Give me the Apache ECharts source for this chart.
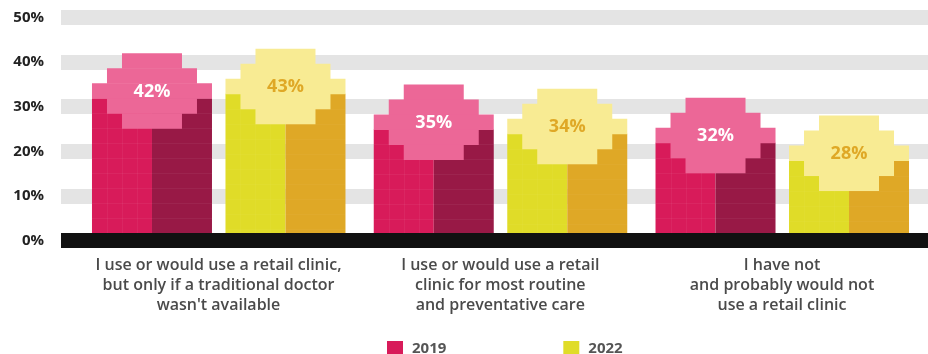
<!DOCTYPE html>
<html>
<head>
<meta charset="utf-8">
<script src="https://cdn.jsdelivr.net/npm/echarts@6/dist/echarts.min.js"></script>
<style>
  html, body { margin: 0; padding: 0; background: #ffffff; }
  #chart { width: 928px; height: 354px; }
</style>
</head>
<body>
<div id="chart"></div>
<script>
// Survey answers about retail clinics, 2019 vs 2022
const categories = [
  "I use or would use a retail clinic,\nbut only if a traditional doctor\nwasn't available",
  "I use or would use a retail\nclinic for most routine\nand preventative care",
  "I have not\nand probably would not\nuse a retail clinic"
];
const values2019 = [42, 35, 32];
const values2022 = [43, 34, 28];
const seriesNames = ["2019", "2022"];
const yTicks = [0, 10, 20, 30, 40, 50];

const FONT = "'Open Sans', Lato, sans-serif";
const CELL = 15;       // pixel-art cell size
const BAR_W = 120;     // 8 cells wide

const palettes = {
  "2019": { face: "#d81b5a", side: "#981946", badge: "#ec6797", text: "#ffffff", grid: "rgba(255,255,255,0.05)" },
  "2022": { face: "#e0dc28", side: "#dfa826", badge: "#f8eb93", text: "#dfa826", grid: "rgba(255,255,255,0.03)" }
};

// Stepped "pixel" column: body split into a lit face and a shaded face,
// topped by a stepped octagon badge whose top edge sits at the value.
function makeRenderer(name, offset) {
  const pal = palettes[name];
  return function (params, api) {
    const cat = api.value(0);
    const v = api.value(1);
    const topPt = api.coord([cat, v]);
    const basePt = api.coord([cat, 0]);
    const cx = topPt[0] + offset;
    const T = topPt[1];
    const B = basePt[1];
    const L = cx - BAR_W / 2;
    const R = cx + BAR_W / 2;
    const bodyTop = T + 3 * CELL;
    const kids = [];

    kids.push({ type: 'rect', shape: { x: L, y: bodyTop, width: cx - L, height: B - bodyTop }, style: { fill: pal.face } });
    kids.push({ type: 'rect', shape: { x: cx, y: bodyTop, width: R - cx, height: B - bodyTop }, style: { fill: pal.side } });

    // faint cell seams on the lit face
    for (let k = 1; k * CELL < cx - L; k++) {
      const x = Math.round(L + k * CELL) + 0.5;
      kids.push({ type: 'line', shape: { x1: x, y1: bodyTop, x2: x, y2: B }, style: { stroke: pal.grid, lineWidth: 1 } });
    }
    for (let y = bodyTop + CELL; y < B; y += CELL) {
      const yy = Math.round(y) + 0.5;
      kids.push({ type: 'line', shape: { x1: L, y1: yy, x2: R, y2: yy }, style: { stroke: pal.grid, lineWidth: 1 } });
    }

    // badge rows (half-widths in cells)
    const rows = [2, 3, 4, 3, 2];
    rows.forEach(function (hw, i) {
      kids.push({
        type: 'rect',
        shape: { x: cx - hw * CELL, y: T + i * CELL, width: hw * 2 * CELL, height: CELL + 0.5 },
        style: { fill: pal.badge }
      });
    });

    kids.push({
      type: 'text',
      style: {
        text: v + '%', x: cx, y: T + 2.5 * CELL + 1,
        align: 'center', verticalAlign: 'middle',
        fill: pal.text, fontSize: 18, fontWeight: 'bold', fontFamily: FONT
      }
    });
    return { type: 'group', children: kids };
  };
}

const chart = echarts.init(document.getElementById('chart'), null, { renderer: 'canvas' });

const gridTop = 17.5, gridBottom = 113.5;

chart.setOption({
  animation: false,
  backgroundColor: '#ffffff',
  legend: {
    data: seriesNames,
    left: 382, top: 336,
    icon: 'rect', itemWidth: 16, itemHeight: 15, itemGap: 117,
    textStyle: { fontFamily: FONT, fontSize: 15, fontWeight: 'bold', color: '#555555', padding: [0, 0, 0, 4] }
  },
  grid: [
    { left: 61, right: 0, top: gridTop, bottom: gridBottom },
    { left: 77.6, right: 5.1, top: gridTop, bottom: gridBottom }
  ],
  xAxis: [
    {
      gridIndex: 0, type: 'value', min: 0, max: 1, z: 10,
      axisLine: { show: true, onZero: false, lineStyle: { color: '#111111', width: 15, cap: 'butt' } },
      axisTick: { show: false }, axisLabel: { show: false }, splitLine: { show: false }
    },
    {
      gridIndex: 1, type: 'category', data: categories,
      axisLine: { show: false }, axisTick: { show: false },
      axisLabel: {
        interval: 0, margin: 15, lineHeight: 20,
        fontFamily: FONT, fontSize: 16, fontWeight: 600, color: '#4a4a4a', align: 'center'
      }
    }
  ],
  yAxis: [
    {
      gridIndex: 0, type: 'value', min: yTicks[0], max: yTicks[yTicks.length - 1], interval: 10,
      axisLine: { show: false }, axisTick: { show: false },
      axisLabel: { margin: 17, formatter: '{value}%', fontFamily: FONT, fontSize: 15, fontWeight: 'bold', color: '#222222' },
      splitLine: { show: true, lineStyle: { color: '#e4e4e4', width: 15, cap: 'butt' } }
    },
    {
      gridIndex: 1, type: 'value', min: yTicks[0], max: yTicks[yTicks.length - 1], interval: 10,
      show: false
    }
  ],
  series: [
    {
      name: seriesNames[0], type: 'custom', xAxisIndex: 1, yAxisIndex: 1,
      itemStyle: { color: palettes["2019"].face },
      renderItem: makeRenderer("2019", -66.5),
      data: values2019.map(function (v, i) { return [i, v]; })
    },
    {
      name: seriesNames[1], type: 'custom', xAxisIndex: 1, yAxisIndex: 1,
      itemStyle: { color: palettes["2022"].face },
      renderItem: makeRenderer("2022", 67),
      data: values2022.map(function (v, i) { return [i, v]; })
    }
  ]
});
</script>
</body>
</html>
